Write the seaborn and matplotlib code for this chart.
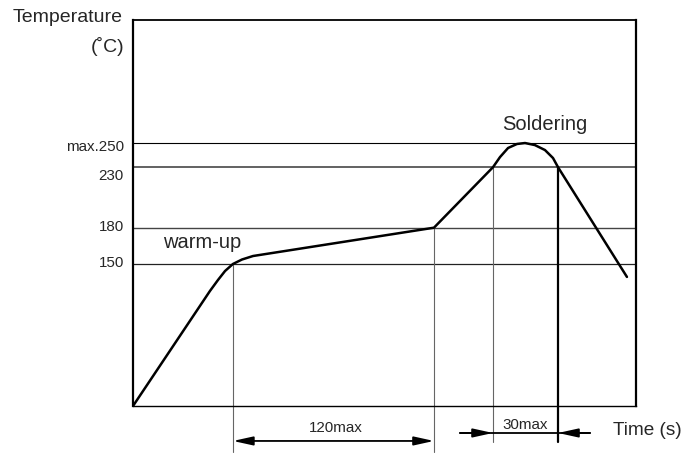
import matplotlib
matplotlib.use("Agg")
import matplotlib.pyplot as plt
import seaborn as sns
import pandas as pd

# ---- data (time in s, temperature in degC), read from the schematic ----
curve_t = [0, 45.9, 50.7, 54.9, 59.6, 65.0, 71.6, 179.5, 214.7, 218.9, 223.7,
           229.0, 233.8, 239.7, 245.7, 250.5, 253.5, 294.6]
curve_T = [32.6, 127.7, 136.8, 144.2, 150, 153.7, 156.6, 180, 230, 238.4, 245.9,
           249.2, 250, 248.3, 244.2, 237.6, 230, 139.3]

level_values = [250, 230, 180, 150]
level_labels = ["max.250", "230", "180", "150"]
label_T = [246.7, 222.7, 180.6, 150.8]

mark_t = [59.6, 179.5, 214.7, 253.5]      # vertical reference lines
mark_top = [150, 180, 230, 230]
mark_bottom = [-5.4, -5.4, 2.9, 2.9]

warm_span = [59.6, 179.5]
warm_label = "120max"
solder_span = [214.7, 253.5]
solder_label = "30max"

sns.set_theme(style="white")
plt.rcParams["font.family"] = ["Liberation Sans", "DejaVu Sans"]

fig = plt.figure(figsize=(6.84, 4.54), dpi=100)
ax = fig.add_axes([133/684, 48/454, 503/684, 386/454])

df = pd.DataFrame({"t": curve_t, "T": curve_T})
sns.lineplot(data=df, x="t", y="T", sort=False, color="black", lw=1.8, ax=ax)

ax.set_xlim(0, 300)
ax.set_ylim(32.6, 351.7)

# horizontal reference levels
h_styles = [("black", 0.8), ("#555555", 1.3), ("#444444", 1.0), ("#222222", 0.9)]
for v, (c, w) in zip(level_values, h_styles):
    ax.axhline(v, color=c, lw=w, zorder=1)

# vertical reference lines (extend below the axes)
v_styles = [("#666666", 0.8), ("#666666", 0.8), ("#666666", 0.8), ("black", 1.6)]
for t, top, bot, (c, w) in zip(mark_t, mark_top, mark_bottom, v_styles):
    ax.plot([t, t], [bot, top], color=c, lw=w, clip_on=False, zorder=1)

# spines
for side, w in [("left", 1.6), ("right", 1.6), ("top", 1.3), ("bottom", 1.0)]:
    ax.spines[side].set_visible(True)
    ax.spines[side].set_color("black")
    ax.spines[side].set_linewidth(w)

ax.set_xticks([])
ax.set_yticks([])
ax.set_xlabel("")
ax.set_ylabel("")

# y labels as text
for lab, ty in zip(level_labels, label_T):
    ax.text(-5.4, ty, lab, ha="right", va="center", fontsize=10.9, clip_on=False)

fig.text(123/684, 1 - 17/454, "Temperature", ha="right", va="center", fontsize=14)
fig.text(124/684, 1 - 46/454, "(˚C)", ha="right", va="center", fontsize=14)

ax.text(41.2, 167.4, "warm-up", ha="center", va="center", fontsize=14.5)
ax.text(245.4, 265.7, "Soldering", ha="center", va="center", fontsize=14.5)

# 120max dimension arrow
y_arrow = 3.7
ax.annotate("", xy=(warm_span[1], y_arrow), xytext=(warm_span[0], y_arrow),
            arrowprops=dict(arrowstyle="<|-|>,head_length=1.0,head_width=0.22",
                            lw=1.3, color="black", shrinkA=0, shrinkB=0),
            annotation_clip=False)
ax.text(121, 14.5, warm_label, ha="center", va="center", fontsize=10.9, clip_on=False)

# 30max dimension arrows (from outside)
y2 = 10.3
ax.plot([195, 272.6], [y2, y2], color="black", lw=1.3, clip_on=False)
ax.annotate("", xy=(solder_span[0], y2), xytext=(195, y2),
            arrowprops=dict(arrowstyle="-|>,head_length=1.0,head_width=0.22",
                            lw=1.3, color="black", shrinkA=0, shrinkB=0),
            annotation_clip=False)
ax.annotate("", xy=(solder_span[1], y2), xytext=(272.6, y2),
            arrowprops=dict(arrowstyle="-|>,head_length=1.0,head_width=0.22",
                            lw=1.3, color="black", shrinkA=0, shrinkB=0),
            annotation_clip=False)
ax.text(233.8, 16.9, solder_label, ha="center", va="center", fontsize=10.9, clip_on=False)

ax.text(306.6, 12, "Time (s)", ha="center", va="center", fontsize=13.7, clip_on=False)

fig.savefig("out.png", dpi=100, facecolor="white")
